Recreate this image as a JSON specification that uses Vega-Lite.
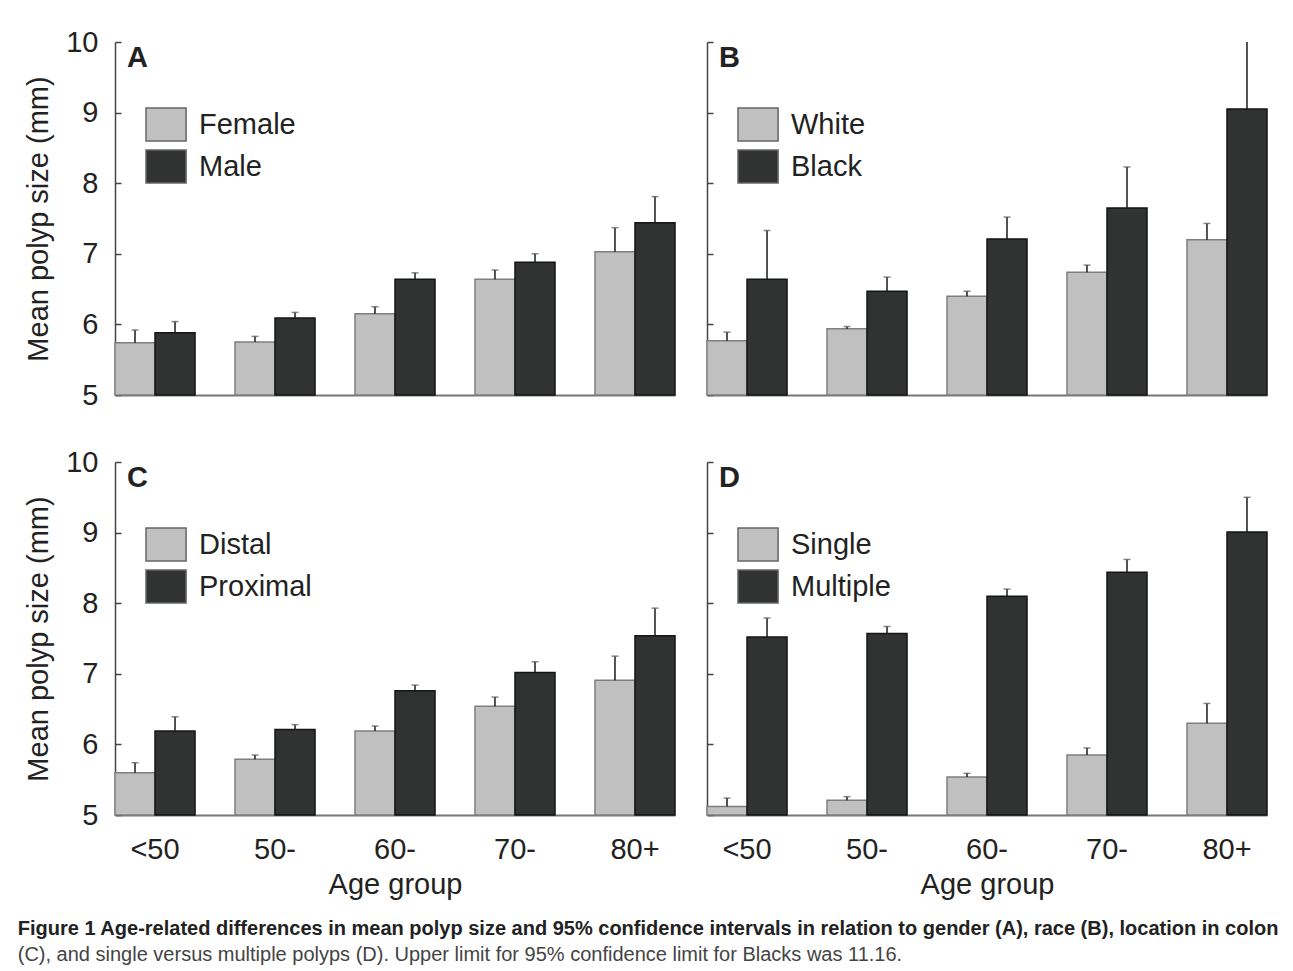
{
  "$schema": "https://vega.github.io/schema/vega-lite/v6.json",
  "padding": {"left": 17, "top": 28, "right": 5, "bottom": 5},
  "background": "white",
  "datasets": {
    "polyp": [
      {"panel": "A", "age": "<50", "group": "Female", "level": "1", "mean": 5.74, "upper": 5.92},
      {"panel": "A", "age": "<50", "group": "Male", "level": "2", "mean": 5.88, "upper": 6.04},
      {"panel": "A", "age": "50-", "group": "Female", "level": "1", "mean": 5.75, "upper": 5.83},
      {"panel": "A", "age": "50-", "group": "Male", "level": "2", "mean": 6.09, "upper": 6.17},
      {"panel": "A", "age": "60-", "group": "Female", "level": "1", "mean": 6.15, "upper": 6.25},
      {"panel": "A", "age": "60-", "group": "Male", "level": "2", "mean": 6.64, "upper": 6.73},
      {"panel": "A", "age": "70-", "group": "Female", "level": "1", "mean": 6.64, "upper": 6.77},
      {"panel": "A", "age": "70-", "group": "Male", "level": "2", "mean": 6.88, "upper": 7.0},
      {"panel": "A", "age": "80+", "group": "Female", "level": "1", "mean": 7.03, "upper": 7.37},
      {"panel": "A", "age": "80+", "group": "Male", "level": "2", "mean": 7.44, "upper": 7.81},
      {"panel": "B", "age": "<50", "group": "White", "level": "1", "mean": 5.77, "upper": 5.89},
      {"panel": "B", "age": "<50", "group": "Black", "level": "2", "mean": 6.64, "upper": 7.33},
      {"panel": "B", "age": "50-", "group": "White", "level": "1", "mean": 5.94, "upper": 5.97},
      {"panel": "B", "age": "50-", "group": "Black", "level": "2", "mean": 6.47, "upper": 6.67},
      {"panel": "B", "age": "60-", "group": "White", "level": "1", "mean": 6.4, "upper": 6.47},
      {"panel": "B", "age": "60-", "group": "Black", "level": "2", "mean": 7.21, "upper": 7.52},
      {"panel": "B", "age": "70-", "group": "White", "level": "1", "mean": 6.74, "upper": 6.84},
      {"panel": "B", "age": "70-", "group": "Black", "level": "2", "mean": 7.65, "upper": 8.23},
      {"panel": "B", "age": "80+", "group": "White", "level": "1", "mean": 7.2, "upper": 7.43},
      {"panel": "B", "age": "80+", "group": "Black", "level": "2", "mean": 9.05, "upper": 11.16},
      {"panel": "C", "age": "<50", "group": "Distal", "level": "1", "mean": 5.6, "upper": 5.74},
      {"panel": "C", "age": "<50", "group": "Proximal", "level": "2", "mean": 6.19, "upper": 6.39},
      {"panel": "C", "age": "50-", "group": "Distal", "level": "1", "mean": 5.79, "upper": 5.85},
      {"panel": "C", "age": "50-", "group": "Proximal", "level": "2", "mean": 6.21, "upper": 6.28},
      {"panel": "C", "age": "60-", "group": "Distal", "level": "1", "mean": 6.19, "upper": 6.26},
      {"panel": "C", "age": "60-", "group": "Proximal", "level": "2", "mean": 6.76, "upper": 6.84},
      {"panel": "C", "age": "70-", "group": "Distal", "level": "1", "mean": 6.54, "upper": 6.67},
      {"panel": "C", "age": "70-", "group": "Proximal", "level": "2", "mean": 7.02, "upper": 7.17},
      {"panel": "C", "age": "80+", "group": "Distal", "level": "1", "mean": 6.91, "upper": 7.25},
      {"panel": "C", "age": "80+", "group": "Proximal", "level": "2", "mean": 7.54, "upper": 7.93},
      {"panel": "D", "age": "<50", "group": "Single", "level": "1", "mean": 5.12, "upper": 5.24},
      {"panel": "D", "age": "<50", "group": "Multiple", "level": "2", "mean": 7.52, "upper": 7.79},
      {"panel": "D", "age": "50-", "group": "Single", "level": "1", "mean": 5.21, "upper": 5.26},
      {"panel": "D", "age": "50-", "group": "Multiple", "level": "2", "mean": 7.57, "upper": 7.67},
      {"panel": "D", "age": "60-", "group": "Single", "level": "1", "mean": 5.54, "upper": 5.59},
      {"panel": "D", "age": "60-", "group": "Multiple", "level": "2", "mean": 8.1, "upper": 8.2},
      {"panel": "D", "age": "70-", "group": "Single", "level": "1", "mean": 5.85, "upper": 5.95},
      {"panel": "D", "age": "70-", "group": "Multiple", "level": "2", "mean": 8.44, "upper": 8.62},
      {"panel": "D", "age": "80+", "group": "Single", "level": "1", "mean": 6.3, "upper": 6.58},
      {"panel": "D", "age": "80+", "group": "Multiple", "level": "2", "mean": 9.01, "upper": 9.5}
    ]
  },
  "title": {
    "text": "Figure 1 Age-related differences in mean polyp size and 95% confidence intervals in relation to gender (A), race (B), location in colon",
    "subtitle": "(C), and single versus multiple polyps (D). Upper limit for 95% confidence limit for Blacks was 11.16.",
    "orient": "bottom",
    "anchor": "start",
    "frame": "bounds",
    "offset": 20,
    "dx": -7,
    "font": "Liberation Sans",
    "fontSize": 20,
    "fontWeight": "bold",
    "color": "#222",
    "subtitleFont": "Liberation Sans",
    "subtitleFontSize": 20,
    "subtitleFontWeight": "normal",
    "subtitleColor": "#444",
    "subtitlePadding": 6
  },
  "vconcat": [
    {
      "hconcat": [
        {
          "width": 560, "height": 353,
          "data": {"name": "polyp"},
          "transform": [{"filter": "datum.panel === 'A'"}],
          "encoding": {
            "x": {"field": "age", "type": "ordinal", "sort": ["<50", "50-", "60-", "70-", "80+"], "scale": {"paddingInner": 0.333, "paddingOuter": 0}, "axis": {"labels": false, "ticks": false, "title": null, "domainColor": "#777", "domainWidth": 2}},
            "xOffset": {"field": "level", "type": "nominal", "scale": {"paddingInner": 0, "paddingOuter": 0}}
          },
          "layer": [
            {
              "mark": {"type": "bar", "strokeWidth": 1.5},
              "encoding": {
                "y": {"field": "mean", "type": "quantitative", "scale": {"domain": [5, 10], "nice": false, "zero": false}, "axis": {"values": [5, 6, 7, 8, 9, 10], "format": "d", "tickSize": -6, "labelPadding": 23, "title": "Mean polyp size (mm)", "titlePadding": 12}},
                "y2": {"datum": 5},
                "color": {"field": "group", "type": "nominal", "scale": {"domain": ["Female", "Male"], "range": ["#c0c0c0", "#313332"]}, "legend": {"title": "A", "orient": "none", "legendX": 12, "legendY": 2}},
                "stroke": {"field": "level", "type": "nominal", "scale": {"domain": ["1", "2"], "range": ["#7f7f7f", "#151515"]}, "legend": null}
              }
            },
            {
              "mark": {"type": "rule", "clip": true, "color": "#1a1a1a", "strokeWidth": 1.5},
              "encoding": {"y": {"field": "mean", "type": "quantitative"}, "y2": {"field": "upper"}}
            },
            {
              "mark": {"type": "tick", "clip": true, "color": "#555", "thickness": 1.5, "size": 7},
              "encoding": {"y": {"field": "upper", "type": "quantitative"}}
            }
          ]
        },
        {
          "width": 560, "height": 353,
          "data": {"name": "polyp"},
          "transform": [{"filter": "datum.panel === 'B'"}],
          "encoding": {
            "x": {"field": "age", "type": "ordinal", "sort": ["<50", "50-", "60-", "70-", "80+"], "scale": {"paddingInner": 0.333, "paddingOuter": 0}, "axis": {"labels": false, "ticks": false, "title": null, "domainColor": "#777", "domainWidth": 2}},
            "xOffset": {"field": "level", "type": "nominal", "scale": {"paddingInner": 0, "paddingOuter": 0}}
          },
          "layer": [
            {
              "mark": {"type": "bar", "strokeWidth": 1.5},
              "encoding": {
                "y": {"field": "mean", "type": "quantitative", "scale": {"domain": [5, 10], "nice": false, "zero": false}, "axis": {"values": [5, 6, 7, 8, 9, 10], "tickSize": -6, "labels": false, "title": null}},
                "y2": {"datum": 5},
                "color": {"field": "group", "type": "nominal", "scale": {"domain": ["White", "Black"], "range": ["#c0c0c0", "#313332"]}, "legend": {"title": "B", "orient": "none", "legendX": 12, "legendY": 2}},
                "stroke": {"field": "level", "type": "nominal", "scale": {"domain": ["1", "2"], "range": ["#7f7f7f", "#151515"]}, "legend": null}
              }
            },
            {
              "mark": {"type": "rule", "clip": true, "color": "#1a1a1a", "strokeWidth": 1.5},
              "encoding": {"y": {"field": "mean", "type": "quantitative"}, "y2": {"field": "upper"}}
            },
            {
              "mark": {"type": "tick", "clip": true, "color": "#555", "thickness": 1.5, "size": 7},
              "encoding": {"y": {"field": "upper", "type": "quantitative"}}
            }
          ]
        }
      ],
      "spacing": 30,
      "resolve": {"scale": {"color": "independent", "stroke": "independent"}, "legend": {"color": "independent"}}
    },
    {
      "hconcat": [
        {
          "width": 560, "height": 353,
          "data": {"name": "polyp"},
          "transform": [{"filter": "datum.panel === 'C'"}],
          "encoding": {
            "x": {"field": "age", "type": "ordinal", "sort": ["<50", "50-", "60-", "70-", "80+"], "scale": {"paddingInner": 0.333, "paddingOuter": 0}, "axis": {"labelAngle": 0, "ticks": false, "labelPadding": 20, "title": "Age group", "titlePadding": 6, "domainColor": "#777", "domainWidth": 2}},
            "xOffset": {"field": "level", "type": "nominal", "scale": {"paddingInner": 0, "paddingOuter": 0}}
          },
          "layer": [
            {
              "mark": {"type": "bar", "strokeWidth": 1.5},
              "encoding": {
                "y": {"field": "mean", "type": "quantitative", "scale": {"domain": [5, 10], "nice": false, "zero": false}, "axis": {"values": [5, 6, 7, 8, 9, 10], "format": "d", "tickSize": -6, "labelPadding": 23, "title": "Mean polyp size (mm)", "titlePadding": 12}},
                "y2": {"datum": 5},
                "color": {"field": "group", "type": "nominal", "scale": {"domain": ["Distal", "Proximal"], "range": ["#c0c0c0", "#313332"]}, "legend": {"title": "C", "orient": "none", "legendX": 12, "legendY": 2}},
                "stroke": {"field": "level", "type": "nominal", "scale": {"domain": ["1", "2"], "range": ["#7f7f7f", "#151515"]}, "legend": null}
              }
            },
            {
              "mark": {"type": "rule", "clip": true, "color": "#1a1a1a", "strokeWidth": 1.5},
              "encoding": {"y": {"field": "mean", "type": "quantitative"}, "y2": {"field": "upper"}}
            },
            {
              "mark": {"type": "tick", "clip": true, "color": "#555", "thickness": 1.5, "size": 7},
              "encoding": {"y": {"field": "upper", "type": "quantitative"}}
            }
          ]
        },
        {
          "width": 560, "height": 353,
          "data": {"name": "polyp"},
          "transform": [{"filter": "datum.panel === 'D'"}],
          "encoding": {
            "x": {"field": "age", "type": "ordinal", "sort": ["<50", "50-", "60-", "70-", "80+"], "scale": {"paddingInner": 0.333, "paddingOuter": 0}, "axis": {"labelAngle": 0, "ticks": false, "labelPadding": 20, "title": "Age group", "titlePadding": 6, "domainColor": "#777", "domainWidth": 2}},
            "xOffset": {"field": "level", "type": "nominal", "scale": {"paddingInner": 0, "paddingOuter": 0}}
          },
          "layer": [
            {
              "mark": {"type": "bar", "strokeWidth": 1.5},
              "encoding": {
                "y": {"field": "mean", "type": "quantitative", "scale": {"domain": [5, 10], "nice": false, "zero": false}, "axis": {"values": [5, 6, 7, 8, 9, 10], "tickSize": -6, "labels": false, "title": null}},
                "y2": {"datum": 5},
                "color": {"field": "group", "type": "nominal", "scale": {"domain": ["Single", "Multiple"], "range": ["#c0c0c0", "#313332"]}, "legend": {"title": "D", "orient": "none", "legendX": 12, "legendY": 2}},
                "stroke": {"field": "level", "type": "nominal", "scale": {"domain": ["1", "2"], "range": ["#7f7f7f", "#151515"]}, "legend": null}
              }
            },
            {
              "mark": {"type": "rule", "clip": true, "color": "#1a1a1a", "strokeWidth": 1.5},
              "encoding": {"y": {"field": "mean", "type": "quantitative"}, "y2": {"field": "upper"}}
            },
            {
              "mark": {"type": "tick", "clip": true, "color": "#555", "thickness": 1.5, "size": 7},
              "encoding": {"y": {"field": "upper", "type": "quantitative"}}
            }
          ]
        }
      ],
      "spacing": 30,
      "resolve": {"scale": {"color": "independent", "stroke": "independent"}, "legend": {"color": "independent"}}
    }
  ],
  "spacing": 38,
  "resolve": {"scale": {"color": "independent", "stroke": "independent"}, "legend": {"color": "independent"}},
  "config": {
    "font": "Liberation Sans",
    "view": {"stroke": null},
    "axis": {"labelFont": "Liberation Sans", "labelFontSize": 29, "labelColor": "#222", "titleFont": "Liberation Sans", "titleFontSize": 29, "titleFontWeight": "normal", "titleColor": "#222", "grid": false, "domainColor": "#444", "domainWidth": 1.5, "tickColor": "#444", "tickWidth": 1.5},
    "legend": {"symbolType": "M0.09,-1H2.52V1H0.09Z", "symbolSize": 1089, "symbolStrokeColor": "#666", "symbolStrokeWidth": 1.5, "symbolOpacity": 1, "labelFont": "Liberation Sans", "labelFontSize": 29, "labelColor": "#222", "labelOffset": 37, "rowPadding": 3, "padding": 0, "titleFont": "Liberation Sans", "titleFontSize": 29, "titleFontWeight": "bold", "titleColor": "#222", "titleBaseline": "top", "titlePadding": 34}
  }
}
